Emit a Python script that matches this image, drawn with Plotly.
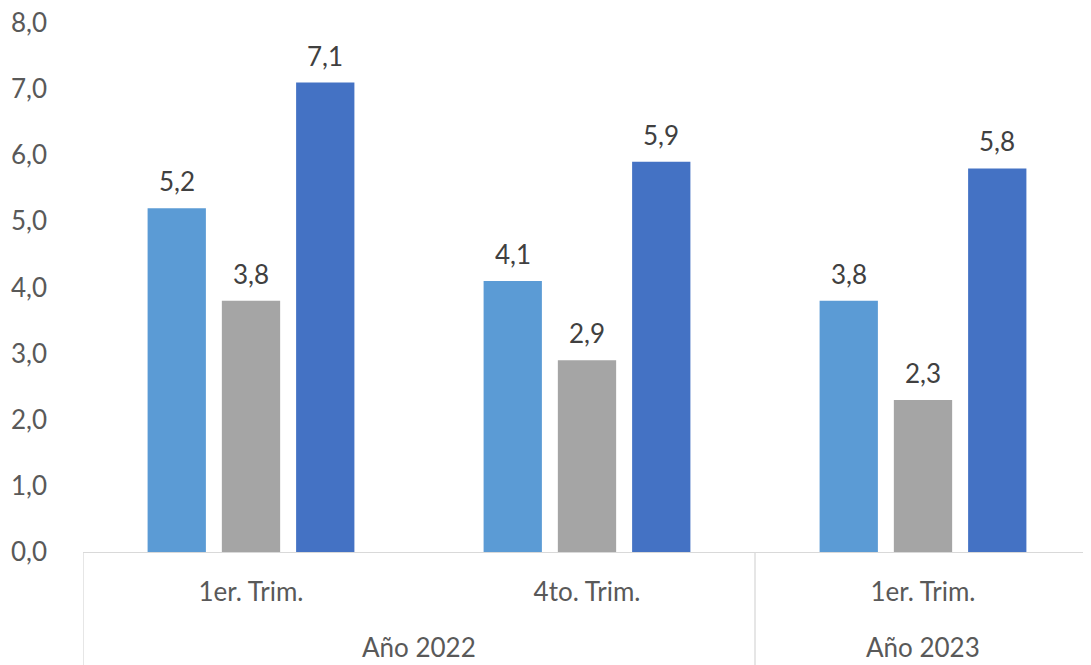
import plotly.graph_objects as go

anios = ["Año 2022", "Año 2022", "Año 2023"]
trimestres = ["1er. Trim.", "4to. Trim.", "1er. Trim."]

serie_a = [5.2, 4.1, 3.8]
serie_b = [3.8, 2.9, 2.3]
serie_c = [7.1, 5.9, 5.8]

nombres = ["Serie 1", "Serie 2", "Serie 3"]
colores = ["#5B9BD5", "#A5A5A5", "#4472C4"]

fuente = "Lato, 'Open Sans', sans-serif"
gris_eje = "#D9D9D9"

# claves unicas para el eje de categorias
claves = [a + " " + t for a, t in zip(anios, trimestres)]

# la pagina tiene 8px de margen en el body
W, H = 1091, 665
m_l, m_r, m_t, m_b = 75, 8, 15, 121
alto_plot = H - m_t - m_b
ancho_cat = (W - m_l - m_r) / len(claves)
bargap = 0.337
paso = ancho_cat * (1 - bargap) / 3

fig = go.Figure()
series = [serie_a, serie_b, serie_c]
for nombre, valores, color in zip(nombres, series, colores):
    fig.add_trace(go.Bar(
        x=claves,
        y=valores,
        name=nombre,
        marker=dict(color=color, line=dict(width=0)),
        hoverinfo="y+name",
    ))

# etiquetas de datos encima de cada barra
for i, valores in enumerate(series):
    for clave, v in zip(claves, valores):
        fig.add_annotation(
            x=clave, y=v, xref="x", yref="y",
            text=f"{v:.1f}".replace(".", ","),
            showarrow=False, yanchor="bottom",
            xshift=(i - 1) * paso, yshift=9,
            font=dict(size=26, color="#404040", family=fuente),
        )

# etiquetas de año y divisores
inicio = 0
for j in range(1, len(anios) + 1):
    if j == len(anios) or anios[j] != anios[inicio]:
        fig.add_annotation(
            x=(inicio + j - 1) / 2, y=-(647 - 552) / alto_plot,
            xref="x", yref="paper", text=anios[inicio],
            showarrow=False, yanchor="middle",
            font=dict(size=26, color="#595959", family=fuente),
        )
        fig.add_shape(
            type="line", xref="x", yref="paper",
            x0=inicio - 0.5, x1=inicio - 0.5, y0=0, y1=-m_b / alto_plot,
            line=dict(color=gris_eje, width=1.3),
        )
        inicio = j
fig.add_shape(
    type="line", xref="x", yref="paper",
    x0=len(anios) - 0.5, x1=len(anios) - 0.5, y0=0, y1=-m_b / alto_plot,
    line=dict(color=gris_eje, width=1.3),
)

fig.update_layout(
    width=W, height=H,
    margin=dict(l=m_l, r=m_r, t=m_t, b=m_b, autoexpand=False),
    barmode="group",
    bargap=bargap,
    bargroupgap=0.215,
    separators=",.",
    showlegend=False,
    plot_bgcolor="#FFFFFF",
    paper_bgcolor="#FFFFFF",
    font=dict(family=fuente, size=24, color="#595959"),
)
fig.update_yaxes(
    range=[0, 8], dtick=1, tickformat=".1f",
    showgrid=False, zeroline=False, showline=False,
    ticks="", ticklabelstandoff=35, automargin=False,
    ticklabeloverflow="allow",
    tickfont=dict(size=26, color="#595959"),
)
fig.update_xaxes(
    type="category",
    tickvals=claves, ticktext=trimestres,
    range=[-0.5, len(claves) - 0.5],
    showline=True, linecolor=gris_eje, linewidth=1.3,
    ticks="", showgrid=False, automargin=False,
    ticklabelstandoff=17, ticklabeloverflow="allow",
    tickfont=dict(size=26, color="#595959"),
)

fig.write_html("out.html")
